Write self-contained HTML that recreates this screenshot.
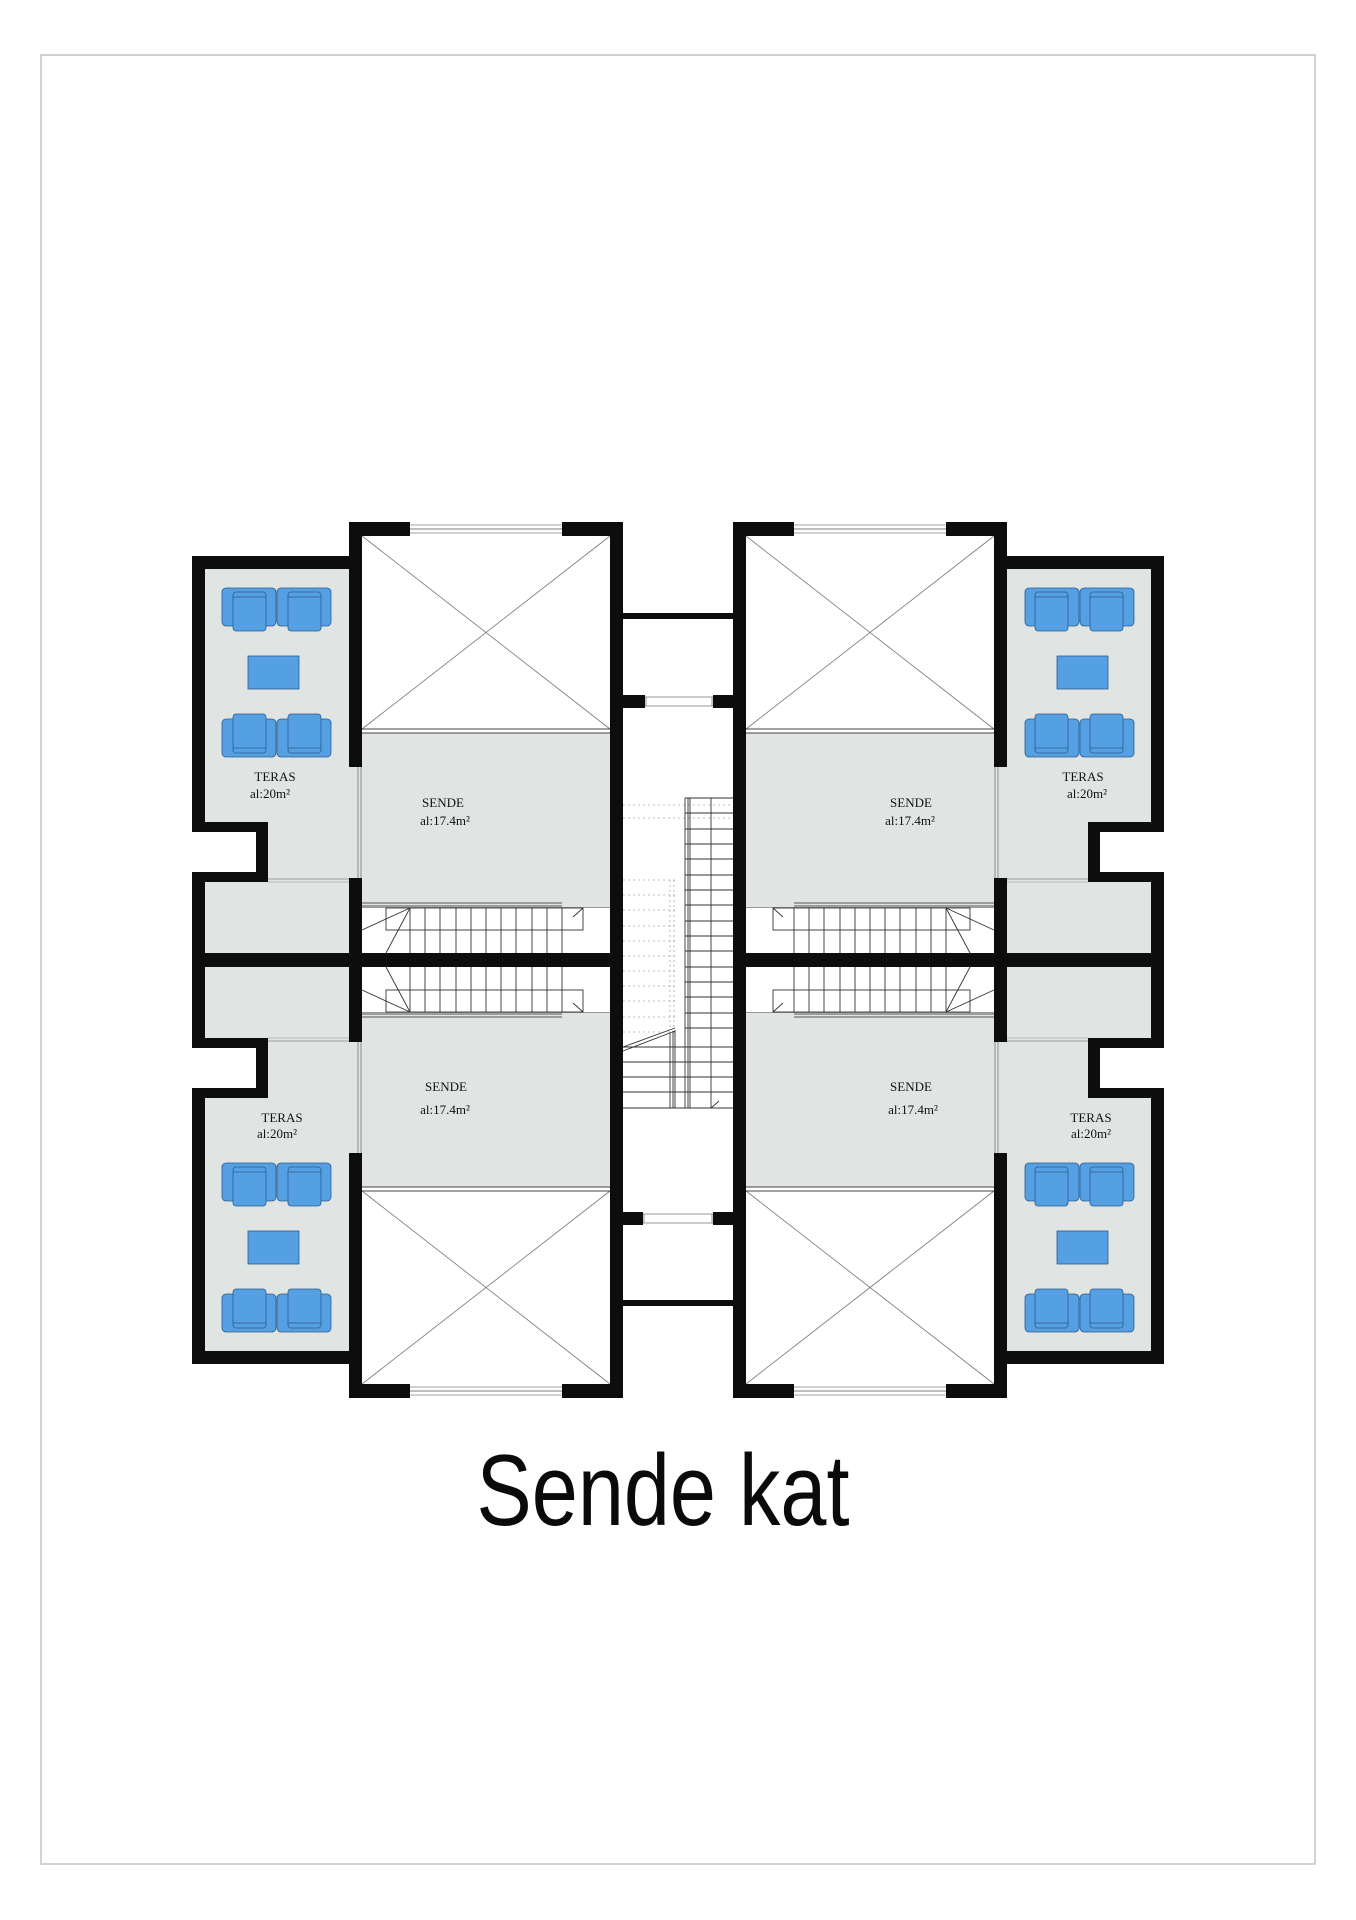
<!DOCTYPE html>
<html><head><meta charset="utf-8"><style>
html,body{margin:0;padding:0;background:#fff}
svg{display:block}
.t{font-family:"Liberation Serif",serif;font-size:13px;fill:#111;text-anchor:middle}
</style></head><body>
<svg width="1356" height="1920" viewBox="0 0 1356 1920" xmlns="http://www.w3.org/2000/svg">
<rect x="41" y="55" width="1274" height="1809" fill="none" stroke="#c4c4c4" stroke-width="1.5"/>
<defs>
<g id="chairT">
 <rect x="0" y="0" width="54" height="38" rx="4" fill="#559fe3" stroke="#2d5d8c" stroke-width="0.8"/>
 <rect x="11" y="4" width="33" height="39" rx="3" fill="#559fe3" stroke="#2d5d8c" stroke-width="0.8"/>
 <line x1="11" y1="9" x2="44" y2="9" stroke="#2d5d8c" stroke-width="0.8"/>
</g>
<g id="q">
 <!-- fills -->
 <rect x="205" y="569" width="157" height="384" fill="#e0e5e4"/>
 <rect x="192" y="832" width="64" height="40" fill="#fff"/>
 <rect x="362" y="733" width="248" height="174" fill="#e0e5e4"/>
 <!-- void -->
 <line x1="362" y1="536" x2="610" y2="729" stroke="#777" stroke-width="0.8"/>
 <line x1="610" y1="536" x2="362" y2="729" stroke="#777" stroke-width="0.8"/>
 <line x1="362" y1="729" x2="610" y2="729" stroke="#444" stroke-width="1"/>
 <line x1="362" y1="733" x2="610" y2="733" stroke="#444" stroke-width="1"/>
 <!-- windows -->
 <line x1="410" y1="525" x2="562" y2="525" stroke="#888" stroke-width="0.8"/>
 <line x1="410" y1="529" x2="562" y2="529" stroke="#555" stroke-width="0.8"/>
 <line x1="410" y1="533" x2="562" y2="533" stroke="#888" stroke-width="0.8"/>
 <line x1="358" y1="767" x2="358" y2="878" stroke="#777" stroke-width="0.8"/>
 <line x1="361" y1="767" x2="361" y2="878" stroke="#777" stroke-width="0.8"/>
 <line x1="268" y1="879" x2="349" y2="879" stroke="#888" stroke-width="0.8"/>
 <line x1="268" y1="882" x2="349" y2="882" stroke="#aaa" stroke-width="0.8"/>
 <!-- stairs -->
 <rect x="362" y="907" width="248" height="46" fill="#fff"/>
 <rect x="562" y="900" width="48" height="7" fill="#e0e5e4"/>
 <line x1="362" y1="903" x2="562" y2="903" stroke="#555" stroke-width="1"/>
 <line x1="362" y1="906" x2="562" y2="906" stroke="#555" stroke-width="1"/>
 <line x1="362" y1="907.5" x2="610" y2="907.5" stroke="#777" stroke-width="0.8"/>
 <rect x="386" y="908" width="197" height="22" fill="none" stroke="#333" stroke-width="0.9"/>
 <g stroke="#333" stroke-width="0.9">
  <line x1="410" y1="908" x2="410" y2="953"/><line x1="425" y1="908" x2="425" y2="953"/>
  <line x1="440" y1="908" x2="440" y2="953"/><line x1="456" y1="908" x2="456" y2="953"/>
  <line x1="471" y1="908" x2="471" y2="953"/><line x1="486" y1="908" x2="486" y2="953"/>
  <line x1="501" y1="908" x2="501" y2="953"/><line x1="516" y1="908" x2="516" y2="953"/>
  <line x1="532" y1="908" x2="532" y2="953"/><line x1="547" y1="908" x2="547" y2="953"/>
  <line x1="562" y1="908" x2="562" y2="953"/>
  <line x1="410" y1="908" x2="362" y2="930"/><line x1="410" y1="908" x2="386" y2="953"/>
  <line x1="573" y1="917" x2="583" y2="908"/>
 </g>
 <!-- furniture -->
 <use href="#chairT" x="222" y="588"/>
 <use href="#chairT" x="277" y="588"/>
 <rect x="248" y="656" width="51" height="33" fill="#559fe3" stroke="#2d5d8c" stroke-width="0.8"/>
 <use href="#chairT" transform="translate(222,757) scale(1,-1)"/>
 <use href="#chairT" transform="translate(277,757) scale(1,-1)"/>
 <!-- walls -->
 <g fill="#0d0d0d">
  <rect x="349" y="522" width="61" height="14"/>
  <rect x="562" y="522" width="61" height="14"/>
  <rect x="349" y="522" width="13" height="245"/>
  <rect x="349" y="878" width="13" height="89"/>
  <rect x="610" y="522" width="13" height="445"/>
  <rect x="192" y="556" width="157" height="13"/>
  <rect x="192" y="556" width="13" height="276"/>
  <rect x="192" y="822" width="76" height="10"/>
  <rect x="256" y="822" width="12" height="60"/>
  <rect x="192" y="872" width="76" height="10"/>
  <rect x="192" y="872" width="13" height="95"/>
  <rect x="192" y="953" width="431" height="14"/>
 </g>
</g>
<g id="half">
 <use href="#q"/>
 <use href="#q" transform="translate(0,1920) scale(1,-1)"/>
</g>
</defs>
<use href="#half"/>
<use href="#half" transform="translate(1356,0) scale(-1,1)"/>
<!-- corridor -->
<g fill="#0d0d0d">
 <rect x="623" y="613" width="110" height="6"/>
 <rect x="623" y="1300" width="110" height="6"/>
 <rect x="623" y="695" width="22" height="13"/>
 <rect x="713" y="695" width="20" height="13"/>
 <rect x="623" y="1212" width="20" height="13"/>
 <rect x="713" y="1212" width="20" height="13"/>
</g>
<g stroke="#777" stroke-width="0.8">
 <line x1="645" y1="697" x2="713" y2="697"/><line x1="645" y1="706" x2="713" y2="706"/>
 <line x1="646" y1="697" x2="646" y2="706"/><line x1="712" y1="697" x2="712" y2="706"/>
 <line x1="643" y1="1214" x2="713" y2="1214"/><line x1="643" y1="1223" x2="713" y2="1223"/>
 <line x1="644" y1="1214" x2="644" y2="1223"/><line x1="712" y1="1214" x2="712" y2="1223"/>
</g>
<g stroke="#aaa" stroke-width="0.8" stroke-dasharray="2,3">
 <line x1="623" y1="805" x2="733" y2="805"/><line x1="623" y1="818" x2="733" y2="818"/>
 <line x1="623" y1="880" x2="675" y2="880"/><line x1="623" y1="895" x2="675" y2="895"/>
 <line x1="623" y1="910" x2="675" y2="910"/><line x1="623" y1="926" x2="675" y2="926"/>
 <line x1="623" y1="941" x2="675" y2="941"/><line x1="623" y1="956" x2="675" y2="956"/>
 <line x1="623" y1="971" x2="675" y2="971"/><line x1="623" y1="986" x2="675" y2="986"/>
 <line x1="623" y1="1001" x2="675" y2="1001"/><line x1="623" y1="1017" x2="675" y2="1017"/>
 <line x1="623" y1="1032" x2="675" y2="1032"/>
 <line x1="670" y1="880" x2="670" y2="1030"/><line x1="674" y1="880" x2="674" y2="1030"/>
</g>
<g stroke="#333" stroke-width="0.9">
 <line x1="685" y1="798" x2="685" y2="1108"/><line x1="688" y1="798" x2="688" y2="1108"/>
 <line x1="690" y1="798" x2="690" y2="1108"/><line x1="711" y1="798" x2="711" y2="1108"/>
 <line x1="685" y1="798" x2="733" y2="798"/><line x1="685" y1="813" x2="733" y2="813"/>
 <line x1="685" y1="829" x2="733" y2="829"/><line x1="685" y1="844" x2="733" y2="844"/>
 <line x1="685" y1="859" x2="733" y2="859"/><line x1="685" y1="875" x2="733" y2="875"/>
 <line x1="685" y1="890" x2="733" y2="890"/><line x1="685" y1="905" x2="733" y2="905"/>
 <line x1="685" y1="921" x2="733" y2="921"/><line x1="685" y1="936" x2="733" y2="936"/>
 <line x1="685" y1="951" x2="733" y2="951"/><line x1="685" y1="967" x2="733" y2="967"/>
 <line x1="685" y1="982" x2="733" y2="982"/><line x1="685" y1="997" x2="733" y2="997"/>
 <line x1="685" y1="1013" x2="733" y2="1013"/><line x1="685" y1="1028" x2="733" y2="1028"/>
 <line x1="623" y1="1047" x2="733" y2="1047"/><line x1="623" y1="1062" x2="733" y2="1062"/>
 <line x1="623" y1="1077" x2="733" y2="1077"/><line x1="623" y1="1092" x2="733" y2="1092"/>
 <line x1="623" y1="1108" x2="733" y2="1108"/>
 <line x1="670" y1="1033" x2="670" y2="1108"/><line x1="673" y1="1031" x2="673" y2="1108"/>
 <line x1="675" y1="1030" x2="675" y2="1108"/>
 <line x1="623" y1="1047" x2="675" y2="1028"/><line x1="623" y1="1051" x2="675" y2="1031"/>
 <line x1="711" y1="1108" x2="719" y2="1101"/>
</g>
<!-- labels -->
<text class="t" x="275" y="781">TERAS</text><text class="t" x="270" y="798">al:20m²</text>
<text class="t" x="443" y="807">SENDE</text><text class="t" x="445" y="825">al:17.4m²</text>
<text class="t" x="282" y="1122">TERAS</text><text class="t" x="277" y="1138">al:20m²</text>
<text class="t" x="446" y="1091">SENDE</text><text class="t" x="445" y="1114">al:17.4m²</text>
<text class="t" x="1083" y="781">TERAS</text><text class="t" x="1087" y="798">al:20m²</text>
<text class="t" x="911" y="807">SENDE</text><text class="t" x="910" y="825">al:17.4m²</text>
<text class="t" x="1091" y="1122">TERAS</text><text class="t" x="1091" y="1138">al:20m²</text>
<text class="t" x="911" y="1091">SENDE</text><text class="t" x="913" y="1114">al:17.4m²</text>
<text x="663" y="1525" text-anchor="middle" font-family="'Liberation Sans',sans-serif" font-size="101" fill="#0a0a0a" transform="translate(663,0) scale(0.82,1) translate(-663,0)">Sende kat</text>
</svg>
</body></html>
